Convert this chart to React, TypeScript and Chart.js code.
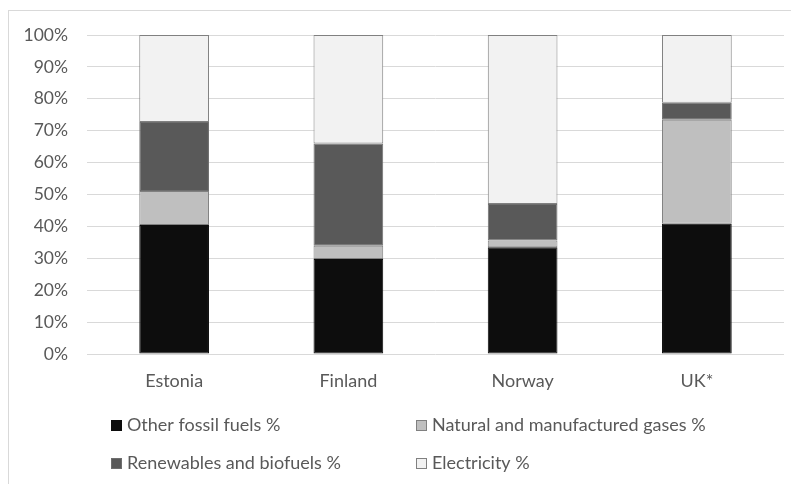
import { useEffect, useRef } from "react";
import { Chart, registerables } from "chart.js";

Chart.register(...registerables);

const categories = ["Estonia", "Finland", "Norway", "UK*"];
const seriesNames = [
  "Other fossil fuels %",
  "Natural and manufactured gases %",
  "Renewables and biofuels %",
  "Electricity %",
];
const otherFossil = [40.4, 29.8, 33.5, 40.8];
const naturalGases = [10.7, 4.1, 2.1, 32.6];
const renewables = [21.6, 32.1, 11.4, 5.4];
const electricity = [27.3, 34.0, 53.0, 21.2];
const yMin = 0;
const yMax = 100;
const yStep = 10;

const FONT = "Lato, 'Open Sans', sans-serif";
const TEXT = "#595959";

const gridLegend = {
  id: "gridLegend",
  afterDraw(chart: any) {
    const ctx = chart.ctx as CanvasRenderingContext2D;
    const cols = [102, 407];
    const rows = [409, 447];
    ctx.save();
    ctx.font = `18px ${FONT}`;
    ctx.textBaseline = "alphabetic";
    ctx.textAlign = "left";
    chart.data.datasets.forEach((d: any, i: number) => {
      const x = cols[i % 2];
      const y = rows[Math.floor(i / 2)];
      ctx.fillStyle = d.backgroundColor;
      ctx.fillRect(x, y, 11, 11);
      ctx.strokeStyle = d.borderColor;
      ctx.lineWidth = 1;
      ctx.strokeRect(x + 0.5, y + 0.5, 10, 10);
      ctx.fillStyle = TEXT;
      ctx.fillText(d.label, x + 16, y + 11);
    });
    ctx.restore();
  },
};

export default function App() {
  const ref = useRef<HTMLCanvasElement>(null);

  useEffect(() => {
    document.documentElement.style.overflow = "hidden";
    document.body.style.overflow = "hidden";
    const canvas = ref.current;
    if (!canvas) return;
    const chart = new Chart(canvas, {
      type: "bar",
      data: {
        labels: categories,
        datasets: [
          { label: seriesNames[0], data: otherFossil, backgroundColor: "#0d0d0d", borderColor: "#0d0d0d" },
          { label: seriesNames[1], data: naturalGases, backgroundColor: "#bfbfbf", borderColor: "#808080" },
          { label: seriesNames[2], data: renewables, backgroundColor: "#595959", borderColor: "#6e6e6e" },
          { label: seriesNames[3], data: electricity, backgroundColor: "#f2f2f2", borderColor: "#808080" },
        ].map((d) => ({
          ...d,
          borderWidth: 1,
          borderSkipped: false,
          barPercentage: 0.4,
          categoryPercentage: 1,
        })),
      },
      options: {
        responsive: false,
        animation: false,
        devicePixelRatio: 1,
        layout: { padding: { left: 0, right: 15, top: 24, bottom: 70 } },
        plugins: {
          legend: { display: false },
          tooltip: { enabled: false },
          title: { display: false },
        },
        scales: {
          x: {
            stacked: true,
            grid: { display: false },
            border: { display: false },
            ticks: { color: TEXT, font: { family: FONT, size: 18 }, padding: 8 },
            afterFit: (s: any) => {
              s.height = 60;
            },
          },
          y: {
            stacked: true,
            min: yMin,
            max: yMax,
            grid: { color: "#d9d9d9", lineWidth: 1, drawTicks: false },
            border: { display: false },
            ticks: {
              stepSize: yStep,
              color: TEXT,
              font: { family: FONT, size: 17.5 },
              padding: 19,
              callback: (v: any) => `${v}%`,
            },
            afterFit: (s: any) => {
              s.width = 78;
              s.paddingTop = 0;
              s.paddingBottom = 0;
            },
          },
        },
      },
      plugins: [gridLegend],
    });
    return () => chart.destroy();
  }, []);

  return (
    <div style={{ position: "relative", width: 791, height: 476, overflow: "hidden" }}>
      <div
        style={{
          position: "absolute",
          left: 0,
          top: 2,
          width: 840,
          height: 540,
          border: "1px solid #d9d9d9",
        }}
      >
        <canvas ref={ref} width={790} height={473} style={{ display: "block" }} />
      </div>
    </div>
  );
}
